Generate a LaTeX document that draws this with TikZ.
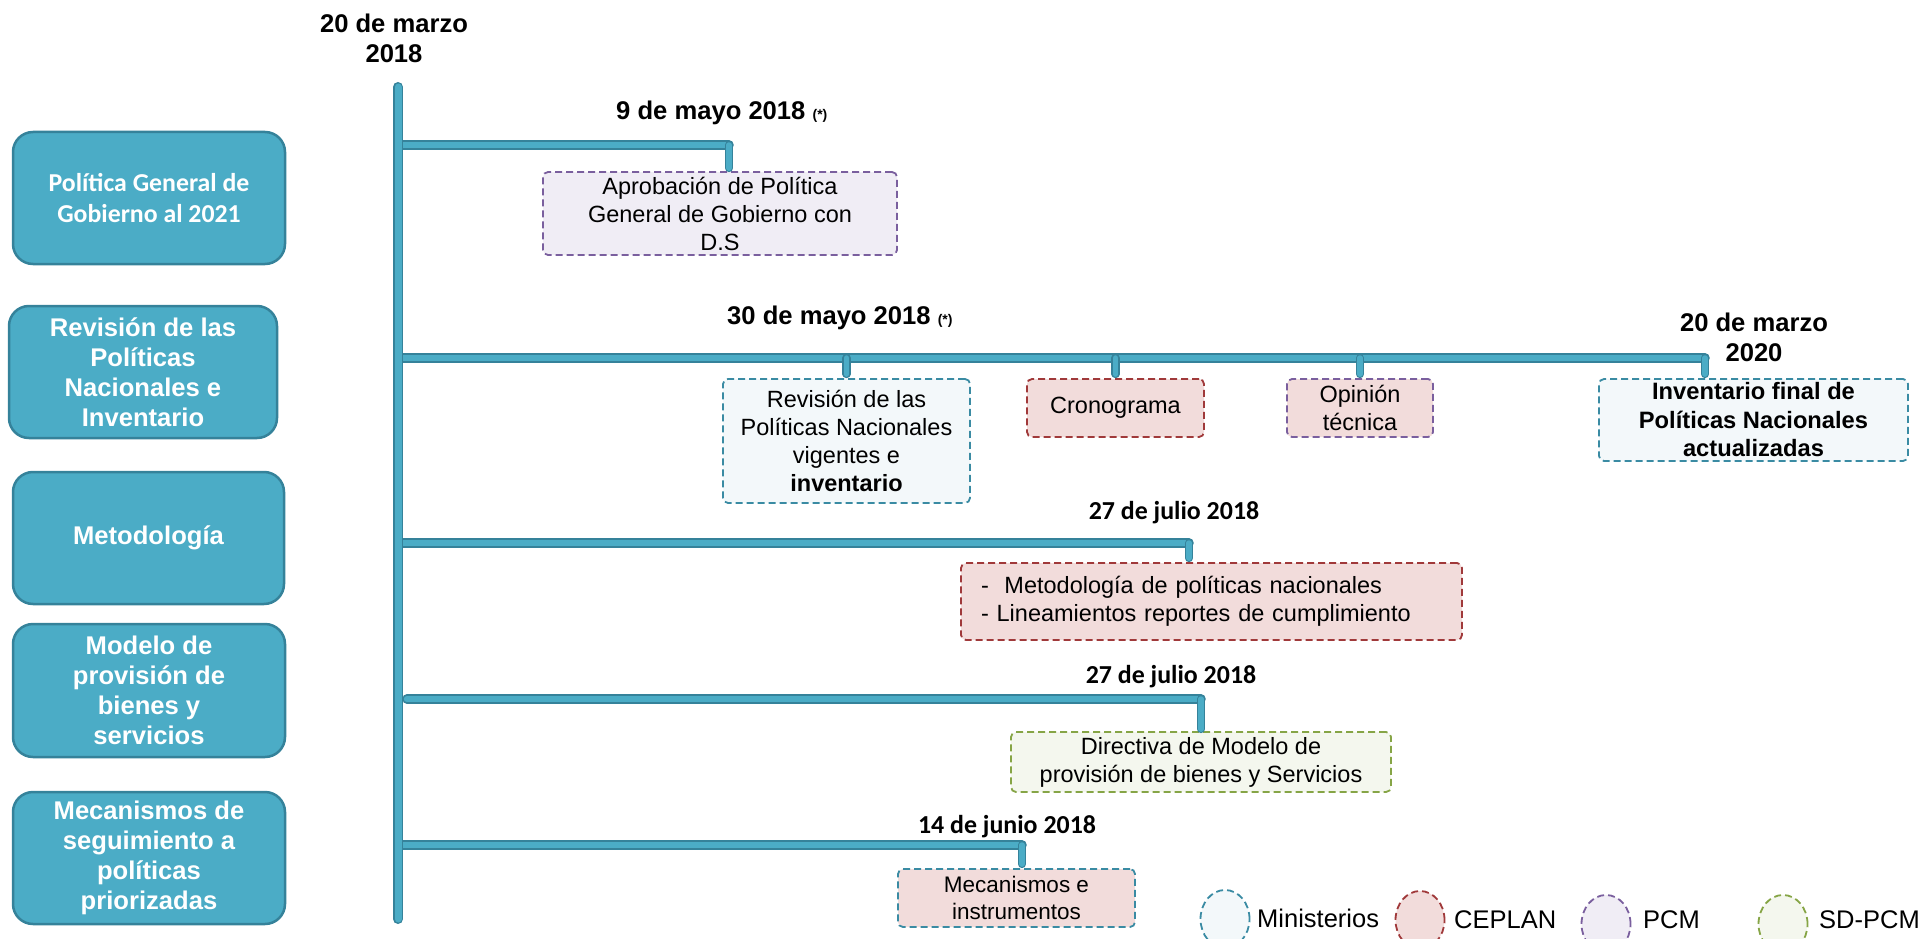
\documentclass[tikz,border=0pt]{standalone}
\usepackage{fontspec}
\setmainfont{Liberation Sans}
\newfontfamily\calib{Carlito}
\usetikzlibrary{shapes.geometric,positioning}
\definecolor{tl}{HTML}{4BACC6}
\definecolor{tlD}{HTML}{35829A}
\definecolor{minD}{HTML}{3A8BA3}
\definecolor{minF}{HTML}{F3F8FA}
\definecolor{cepD}{HTML}{A0393A}
\definecolor{cepF}{HTML}{F2DCDB}
\definecolor{pcmD}{HTML}{7A5F9E}
\definecolor{pcmF}{HTML}{F0EDF5}
\definecolor{sdD}{HTML}{86A546}
\definecolor{sdF}{HTML}{F4F7EE}
\tikzset{grp/.style={rectangle,rounded corners=20pt,draw=tlD,line width=2.5pt,fill=tl,text=white,align=center,minimum width=272pt,minimum height=132pt,inner sep=0pt,font=\fontsize{25.6}{30}\selectfont\bfseries}}
\tikzset{ev/.style={rectangle,rounded corners=5pt,dash pattern=on 7pt off 4pt,line width=1.8pt,align=center,inner sep=0pt,font=\fontsize{23.5}{28}\selectfont}}
\tikzset{mi/.style={ev,draw=minD,fill=minF}}
\tikzset{ce/.style={ev,draw=cepD,fill=cepF}}
\tikzset{pc/.style={ev,draw=pcmD,fill=pcmF}}
\tikzset{sd/.style={ev,draw=sdD,fill=sdF}}
\tikzset{dt/.style={align=center,inner sep=0pt,font=\fontsize{25.6}{30}\selectfont\bfseries}}
\tikzset{dc/.style={dt,font=\calib\fontsize{25.9}{30}\selectfont\bfseries}}
\tikzset{bar/.style={draw=tlD,double=tl,double distance=6.5pt,line width=1.5pt,line cap=round}}
\tikzset{stub/.style={draw=tlD,double=tl,double distance=5.5pt,line width=1.3pt,line cap=round}}
\tikzset{lg/.style={ellipse,dash pattern=on 7pt off 4pt,line width=1.8pt,minimum width=49pt,minimum height=58pt,inner sep=0pt}}
\tikzset{lt/.style={anchor=west,inner sep=0pt,font=\fontsize{25.5}{30}\selectfont}}
\newcommand{\nota}{{\fontsize{14}{16}\selectfont\bfseries (*)}}

\begin{document}
\begin{tikzpicture}[x=1pt,y=-1pt]
  \useasboundingbox (0,0) rectangle (1922,939);
  \clip (0,0) rectangle (1922,939);

  \node[grp,font=\calib\fontsize{25.8}{31}\selectfont\bfseries] (g1) at (149,198) {Política General de\\Gobierno al 2021};
  \node[grp,minimum width=268pt] (g2) at (143,372) {Revisión de las\\Políticas\\Nacionales e\\Inventario};
  \node[grp,minimum width=271pt] (g3) at (148.5,538) {Metodología};
  \node[grp,minimum height=133pt] (g4) at (149,690.5) {Modelo de\\provisión de\\bienes y\\servicios};
  \node[grp] (g5) at (149,858) {Mecanismos de\\seguimiento a\\políticas\\priorizadas};

  \node[dt] (d0) at (394,38) {20 de marzo\\2018};
  \node[dt,anchor=west] (d1) at (616,113) {9 de mayo 2018 \nota};
  \node[dt,anchor=west] (d2) at (727,318) {30 de mayo 2018 \nota};
  \node[dt] (d3) at (1754,337) {20 de marzo\\2020};
  \node[dc] (d4) at (1174,513) {27 de julio 2018};
  \node[dc] (d5) at (1171,677) {27 de julio 2018};
  \node[dc] (d6) at (1007,827) {14 de junio 2018};

  \node[pc,minimum width=354pt,minimum height=83pt] (apr) at (720,213.5) {Aprobación de Política\\General de Gobierno con\\D.S};
  \node[mi,minimum width=247pt,minimum height=124pt] (rev) at (846.5,441) {Revisión de las\\Políticas Nacionales\\vigentes e\\\textbf{inventario}};
  \node[ce,minimum width=177pt,minimum height=58pt] (cro) at (1115.5,408) {Cronograma};
  \node[ev,draw=pcmD,fill=cepF,minimum width=146pt,minimum height=58pt] (opi) at (1360,408) {Opinión\\técnica};
  \node[mi,minimum width=309pt,minimum height=82pt,font=\fontsize{23.7}{28.5}\selectfont\bfseries] (inv) at (1753.5,420) {Inventario final de\\Políticas Nacionales\\actualizadas};
  \node[ce,minimum width=501pt,minimum height=77pt,text width=461pt,align=left] (met) at (1211.5,601.5) {-\ \ Metodología de políticas nacionales\\- Lineamientos reportes de cumplimiento};
  \node[sd,minimum width=380pt,minimum height=60pt] (dir) at (1201,762) {Directiva de Modelo de\\provisión de bienes y Servicios};
  \node[ev,draw=minD,fill=cepF,minimum width=237pt,minimum height=58pt,font=\fontsize{22.5}{27}\selectfont] (mec) at (1016.5,898) {Mecanismos e\\instrumentos};

  \coordinate (top) at (398,87);
  \coordinate (bot) at (398,919);
  \coordinate (t1) at (398,145);
  \coordinate (t2) at (398,358);
  \coordinate (t3) at (398,543);
  \coordinate (t4) at (407,699);
  \coordinate (t5) at (398,845);
  \coordinate (b1e) at (729,145);
  \coordinate (b2e) at (1705,358);
  \coordinate (b3e) at (1189,543);
  \coordinate (b4e) at (1201,699);
  \coordinate (b5e) at (1022,845);

  \draw[bar] (t1) -- (b1e);
  \draw[bar] (t2) -- (b2e);
  \draw[bar] (t3) -- (b3e);
  \draw[bar] (t4) -- (b4e);
  \draw[bar] (t5) -- (b5e);
  \draw[bar,double distance=7pt] (top) -- (bot);

  \draw[stub,shorten >=3pt] (b1e) -- (b1e |- apr.north);
  \draw[stub,shorten >=4pt] (rev.north |- b2e) -- (rev.north);
  \draw[stub,shorten >=4pt] (cro.north |- b2e) -- (cro.north);
  \draw[stub,shorten >=4pt] (opi.north |- b2e) -- (opi.north);
  \draw[stub,shorten >=4pt] (b2e) -- (b2e |- inv.north);
  \draw[stub,shorten >=4pt] (b3e) -- (b3e |- met.north);
  \draw[stub,shorten >=2pt] (b4e) -- (b4e |- dir.north);
  \draw[stub,shorten >=4pt] (b5e) -- (b5e |- mec.north);

  \node[lg,draw=minD,fill=minF] (l1) at (1225,919) {};
  \node[lg,draw=cepD,fill=cepF] (l2) at (1420,920) {};
  \node[lg,draw=pcmD,fill=pcmF] (l3) at (1606,924) {};
  \node[lg,draw=sdD,fill=sdF] (l4) at (1783,924) {};
  \node[lt] (n1) at (1257,918) {Ministerios};
  \node[lt] (n2) at (1454,920) {CEPLAN};
  \node[lt] (n3) at (1643,920) {PCM};
  \node[lt] (n4) at (1819,920) {SD-PCM};
\end{tikzpicture}
\end{document}
